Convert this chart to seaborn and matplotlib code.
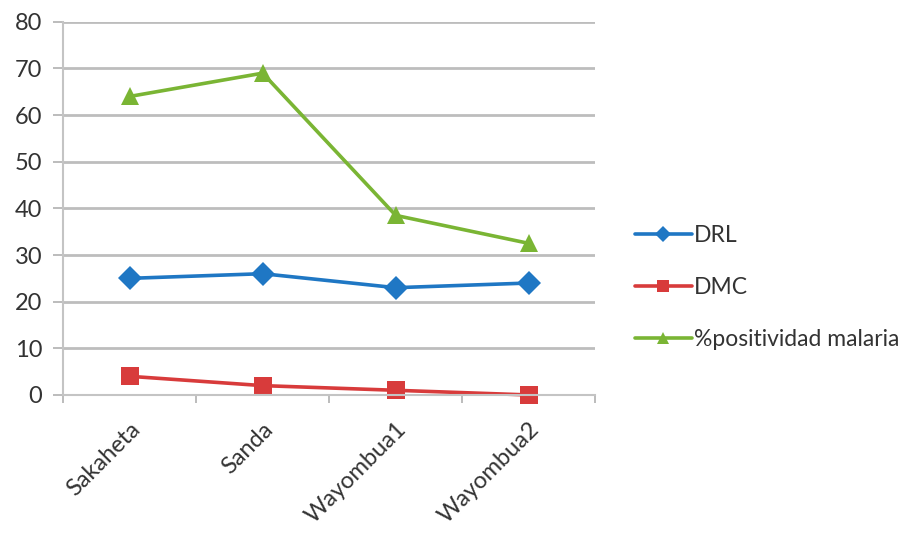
import matplotlib
matplotlib.use("Agg")
import matplotlib.pyplot as plt
from matplotlib.ticker import FixedLocator, NullFormatter
import seaborn as sns
import pandas as pd

categories = ["Sakaheta", "Sanda", "Wayombua1", "Wayombua2"]
drl = [25, 26, 23, 24]
dmc = [4, 2, 1, 0]
positividad = [64, 69, 38.5, 32.5]
series_names = ["DRL", "DMC", "%positividad malaria"]
y_ticks = [0, 10, 20, 30, 40, 50, 60, 70, 80]

rows = []
for name, vals in zip(series_names, [drl, dmc, positividad]):
    for i, (cat, v) in enumerate(zip(categories, vals)):
        rows.append({"pos": i, "sitio": cat, "valor": v, "serie": name})
df = pd.DataFrame(rows)

sns.set_theme(style="white")
plt.rcParams["font.family"] = ["Lato", "DejaVu Sans"]

fig = plt.figure(figsize=(9.18, 5.33), dpi=100)
ax = fig.add_axes([0.0686, 0.259, 0.580, 0.700])

palette = {"DRL": "#1f77c4", "DMC": "#d83b3b", "%positividad malaria": "#7ab534"}
markers = {"DRL": "D", "DMC": "s", "%positividad malaria": "^"}

sns.lineplot(data=df, x="pos", y="valor", hue="serie", style="serie",
             hue_order=series_names, style_order=series_names,
             palette=palette, markers=markers, dashes=False,
             markersize=12.5, linewidth=2.6, markeredgewidth=0,
             ax=ax, legend=True)
for line in ax.lines:
    line.set_clip_on(False)

ax.set_xlim(-0.5, 3.5)
ax.set_ylim(0, 80)
ax.set_yticks(y_ticks)
ax.set_xticks(range(len(categories)))
ax.set_xticklabels(categories, rotation=45, ha="right", rotation_mode="anchor",
                   fontsize=17, color="#333333")
ax.xaxis.set_minor_locator(FixedLocator([-0.5, 0.5, 1.5, 2.5, 3.5]))
ax.xaxis.set_minor_formatter(NullFormatter())
ax.tick_params(axis="x", which="major", length=0, pad=17)
ax.tick_params(axis="x", which="minor", length=6, width=1.2, color="#b0b0b0",
               direction="out", bottom=True)
ax.tick_params(axis="y", length=7, width=1.2, color="#b0b0b0", direction="out",
               labelsize=17, labelcolor="#333333", left=True, pad=8)
ax.set_xlabel("")
ax.set_ylabel("")

ax.yaxis.grid(True, color="#bdbdbd", linewidth=2)
ax.set_axisbelow(True)
for side in ["top", "right"]:
    ax.spines[side].set_visible(False)
for side in ["left", "bottom"]:
    ax.spines[side].set_color("#c4c4c4")
    ax.spines[side].set_linewidth(1.5)

handles, labels = ax.get_legend_handles_labels()
for h in handles:
    h.set_markersize(8)
ax.legend(handles, labels, loc="upper left", bbox_to_anchor=(1.035, 0.51),
          frameon=False, fontsize=16.5, labelspacing=1.35, handlelength=2.5,
          handletextpad=0.1, labelcolor="#333333")

fig.savefig("out.png", dpi=100)
